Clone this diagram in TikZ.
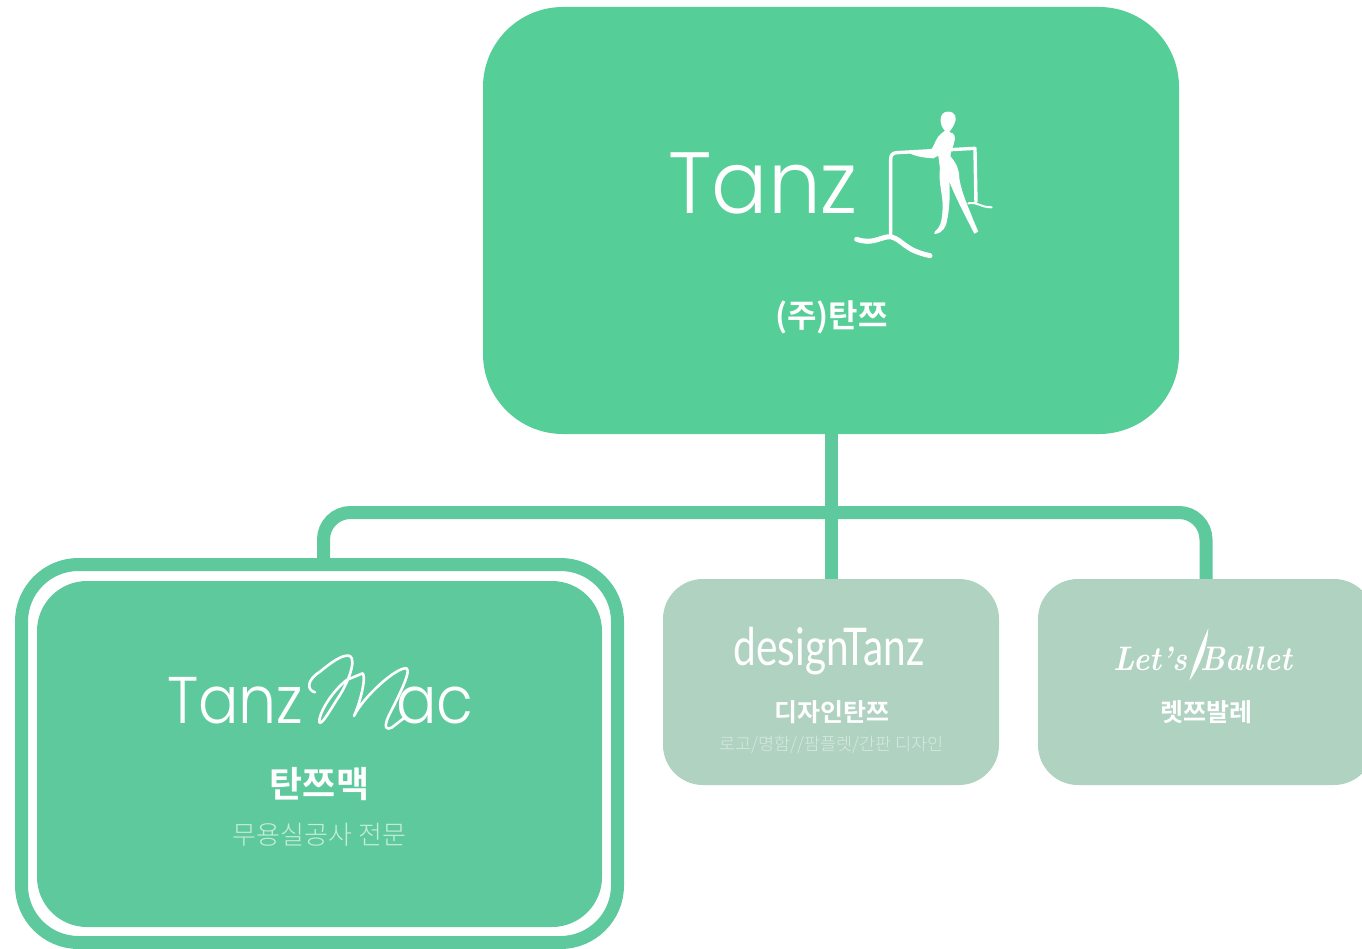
\documentclass[tikz,border=0pt]{standalone}
\usepackage{fontspec}
\newfontfamily\logofont{Poppins Light}
\newfontfamily\narrowfont{Lato}
\newfontfamily\kor{Noto Sans CJK KR}
\newfontfamily\korbold{Noto Sans CJK KR Bold}
\newfontfamily\korlight{Noto Sans CJK KR Light}
\newcommand{\fs}[1]{\fontsize{#1}{#1}\selectfont}
\definecolor{topgreen}{HTML}{55CE98}
\definecolor{macgreen}{HTML}{5FC99E}
\definecolor{subgreen}{HTML}{AFD2C1}
\definecolor{maclight}{HTML}{C6ECDB}
\definecolor{sublight}{HTML}{D8E9E1}
\tikzset{
  box/.style={rounded corners=#1, minimum width=336, minimum height=206},
  link/.style={draw=macgreen, line width=13},
  logo/.style={white, line cap=round, line join=round},
  title/.style={white, font=\korbold\fs{#1}},
}
\begin{document}
\begin{tikzpicture}[x=1pt,y=1pt]
\tikzstyle{every node}+=[inner sep=0pt]
\useasboundingbox (0,0) rectangle (1362,-949);
\clip (0,0) rectangle (1362,-949);
\coordinate (busl) at (323.5,-512.5);
\coordinate (busr) at (1206,-512.5);
\node (tanz) [box=80, fill=topgreen, minimum width=696, minimum height=427] at (831,-220.5) {};
\node (design) [box=40, fill=subgreen] at (831,-682) {};
\node (lets) [box=40, fill=subgreen] at (1206,-682) {};
\node (ring) [draw=macgreen, line width=13, rounded corners=57, minimum width=596, minimum height=378] at (319.5,-753.5) {};
\node (mac) [rounded corners=50, fill=macgreen, minimum width=565, minimum height=346] at (319.5,-754) {};
\draw [link] (tanz.south) -- (design.north);
\draw [link, rounded corners=27] ([xshift=4]ring.north) -- (busl) -- (busr) -- (lets.north);
\node (tanzlogo) [white, font=\logofont\fs{87}, xscale=0.96, transform shape, anchor=base west] at (668,-214) {Tanz};
\node (tanzname) [title=32] at (831.5,-317.5) {(주)탄쯔};
\begin{scope}[shift={(640,-90)},x=0.3333pt,y=-0.3333pt]
\draw [logo, line width=3.4] (1008,335) -- (1005,175) -- (770,188) .. controls (757,189) and (752,195) .. (752,210) -- (752,440);
\draw [logo, line width=2] (985,340) .. controls (1015,335) and (1020,352) .. (1055,352);
\draw [logo, line width=5] (650,448) .. controls (700,465) and (720,440) .. (752,440) .. controls (790,450) and (790,480) .. (870,497);
\fill [white] (924,65) .. controls (948,65) and (952,85) .. (943,102) .. controls (937,116) and (930,122) .. (928,126) .. controls (945,130) and (948,140) .. (942,160) .. controls (936,180) and (930,190) .. (932,200) .. controls (950,220) and (958,240) .. (958,265) .. controls (965,310) and (985,350) .. (1000,390) -- (1015,425) -- (1003,431) .. controls (985,395) and (950,330) .. (928,275) .. controls (932,330) and (925,380) .. (918,405) .. controls (910,425) and (895,432) .. (883,432) -- (885,424) .. controls (905,410) and (908,380) .. (908,340) .. controls (905,300) and (895,270) .. (900,235) -- (895,197) -- (880,205) .. controls (850,203) and (825,200) .. (800,185) .. controls (830,185) and (860,182) .. (876,176) .. controls (885,160) and (890,140) .. (905,130) -- (915,122) .. controls (898,108) and (894,65) .. (924,65) -- cycle;
\end{scope}
\node (maclogol) [white, font=\logofont\fs{66}, xscale=0.91, transform shape, anchor=base west] at (167,-723) {Tanz};
\node (maclogom) [white, font=\logofont\fs{66}, xscale=0.91, transform shape, anchor=base west] at (396,-723) {ac};
\begin{scope}[shift={(140,-630)},x=0.3333pt,y=-0.3333pt]
\draw [logo, line width=2.6] (525,187) .. controls (500,180) and (500,150) .. (540,125) .. controls (570,100) and (610,70) .. (630,78) .. controls (650,90) and (625,160) .. (590,210) .. controls (565,250) and (545,285) .. (538,277) .. controls (535,255) and (570,190) .. (620,150) -- (668,130) .. controls (680,140) and (660,220) .. (642,258) .. controls (670,200) and (770,110) .. (800,115) .. controls (815,125) and (770,210) .. (745,260) .. controls (730,295) and (740,300) .. (755,293) -- (795,262);
\end{scope}
\node (macname) [title=36] at (319.5,-784) {탄쯔맥};
\node (macnote) [maclight, font=\korlight\fs{26}] at (319.5,-835) {무용실공사 전문};
\node (designlogo) [white, font=\narrowfont\fs{52}, xscale=0.78, transform shape, anchor=base] at (829,-665) {designTanz};
\node (designname) [title=25] at (832,-712) {디자인탄쯔};
\node (designnote) [sublight, font=\korlight\fs{17.5}] at (831.5,-745) {로고/명함//팜플렛/간판 디자인};
\node (letslogo) [white, font=\rmfamily\bfseries\itshape\fs{34}, xscale=0.9, transform shape, anchor=base] at (1203,-670) {Let's Ballet};
\begin{scope}[shift={(1100,-610)},x=0.3333pt,y=-0.3333pt]
\fill [white] (325,55) .. controls (322,110) and (300,170) .. (268,212) .. controls (285,150) and (305,100) .. (325,55) -- cycle;
\end{scope}
\node (letsname) [title=25] at (1206,-712) {렛쯔발레};
\end{tikzpicture}
\end{document}
